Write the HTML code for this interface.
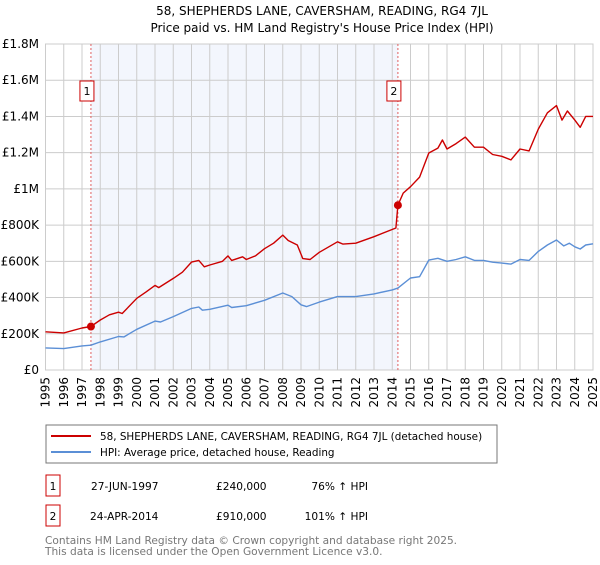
<!DOCTYPE html>
<html><head><meta charset="utf-8">
<style>
body{margin:0;background:#fff;font-family:"Liberation Sans","DejaVu Sans",sans-serif;}
svg text{font-family:"DejaVu Sans","Liberation Sans",sans-serif;}
</style></head>
<body>
<svg id="chart" width="600" height="560" viewBox="0 0 600 560">
<text x="322" y="15" text-anchor="middle" font-size="12">58, SHEPHERDS LANE, CAVERSHAM, READING, RG4 7JL</text>
<text x="322" y="32" text-anchor="middle" font-size="12">Price paid vs. HM Land Registry's House Price Index (HPI)</text>
<g id="plot"></g>
<g>
<rect x="46" y="425" width="451" height="38" fill="#fff" stroke="#777"/>
<line x1="51" y1="436" x2="91" y2="436" stroke="#cc0000" stroke-width="2"/>
<text x="100" y="440" font-size="10.4">58, SHEPHERDS LANE, CAVERSHAM, READING, RG4 7JL (detached house)</text>
<line x1="51" y1="452" x2="91" y2="452" stroke="#5b8fd6" stroke-width="2"/>
<text x="100" y="456" font-size="10.4">HPI: Average price, detached house, Reading</text>
</g>
<g font-size="10.6">
<rect x="46" y="475" width="14" height="21" fill="none" stroke="#cc0000"/>
<text x="53" y="490" text-anchor="middle">1</text>
<text x="91" y="490">27-JUN-1997</text>
<text x="216" y="490">£240,000</text>
<text x="368" y="490" text-anchor="end">76% ↑ HPI</text>
<rect x="46" y="505" width="14" height="21" fill="none" stroke="#cc0000"/>
<text x="53" y="520" text-anchor="middle">2</text>
<text x="90" y="520">24-APR-2014</text>
<text x="216" y="520">£910,000</text>
<text x="368" y="520" text-anchor="end">101% ↑ HPI</text>
</g>
<text x="45" y="544" font-size="10.6" fill="#777">Contains HM Land Registry data © Crown copyright and database right 2025.</text>
<text x="45" y="555" font-size="10.6" fill="#777">This data is licensed under the Open Government Licence v3.0.</text>
</svg>
<script>
const yTicks=[0,200000,400000,600000,800000,1000000,1200000,1400000,1600000,1800000];
const yTickLabels=["£0","£200K","£400K","£600K","£800K","£1M","£1.2M","£1.4M","£1.6M","£1.8M"];
const xYears=[1995,1996,1997,1998,1999,2000,2001,2002,2003,2004,2005,2006,2007,2008,2009,2010,2011,2012,2013,2014,2015,2016,2017,2018,2019,2020,2021,2022,2023,2024,2025];
const redT=[1995,1996,1997,1997.49,1998,1998.5,1999,1999.2,2000,2000.5,2001,2001.2,2002,2002.5,2003,2003.4,2003.7,2004,2004.7,2005,2005.2,2005.8,2006,2006.5,2007,2007.5,2008,2008.3,2008.8,2009.1,2009.5,2010,2011,2011.3,2012,2013,2014.2,2014.31,2014.6,2015,2015.5,2016,2016.5,2016.75,2017,2017.5,2018,2018.5,2019,2019.5,2020,2020.5,2021,2021.5,2022,2022.5,2023,2023.3,2023.6,2024,2024.3,2024.6,2025];
const redV=[211,205,232,240,276,305,319,312,396,430,467,455,506,540,596,605,570,580,600,630,605,625,610,630,670,700,745,715,690,615,610,650,708,695,700,736,784,910,977,1012,1065,1198,1225,1270,1220,1250,1286,1230,1230,1190,1180,1160,1220,1210,1330,1420,1460,1380,1430,1380,1340,1400,1400];
const hpiT=[1995,1996,1997,1997.49,1998,1999,1999.3,2000,2001,2001.3,2002,2003,2003.4,2003.6,2004,2005,2005.2,2006,2007,2008,2008.5,2009,2009.3,2010,2011,2012,2013,2014,2014.31,2015,2015.5,2016,2016.5,2017,2017.5,2018,2018.5,2019,2019.5,2020,2020.5,2021,2021.5,2022,2022.5,2023,2023.4,2023.7,2024,2024.3,2024.6,2025];
const hpiV=[122,118,133,137,155,185,183,225,270,265,295,340,348,330,335,358,345,355,385,425,405,360,350,375,405,405,420,442,452,508,515,607,617,600,610,625,605,605,595,590,585,610,605,655,690,718,685,700,680,668,690,697];
const saleT=[1997.49,2014.31];
const saleV=[240000,910000];
const saleLabels=["1","2"];

const X0=45.5,X1=593,Y0=370,Y1=44;
const xs=t=>X0+(t-1995)/(2025-1995)*(X1-X0);
const ys=v=>Y0-v/1800000*(Y0-Y1);
const NS="http://www.w3.org/2000/svg";
const plot=document.getElementById('plot');
function mk(tag,attrs,parent){const e=document.createElementNS(NS,tag);for(const k in attrs)e.setAttribute(k,attrs[k]);(parent||plot).appendChild(e);return e;}

let bg=mk('rect',{x:X0,y:Y1,width:X1-X0,height:Y0-Y1,fill:'#fff'});


let sh=mk('rect',{x:xs(saleT[0]),y:Y1,width:xs(saleT[1])-xs(saleT[0]),height:Y0-Y1,fill:'#f3f6fd'});



yTicks.forEach((v,i)=>{
 let l=mk('line',{x1:X0,x2:X1,y1:ys(v),y2:ys(v),stroke:'#ccc','stroke-width':1});
 
 
 let t=mk('text',{x:39,y:ys(v)+4,'text-anchor':'end','font-size':12});
 t.textContent=yTickLabels[i];
 
 
});
xYears.forEach(yr=>{
 let l=mk('line',{x1:xs(yr),x2:xs(yr),y1:Y1,y2:Y0,stroke:'#ccc','stroke-width':1});
 
 
 let t=mk('text',{x:0,y:0,'text-anchor':'end','font-size':12,transform:`translate(${xs(yr)+4},${Y0+7}) rotate(-90)`});
 t.textContent=yr;
 
 
});
let fr=mk('rect',{x:X0,y:Y1,width:X1-X0,height:Y0-Y1,fill:'none',stroke:'#ccc'});



saleT.forEach((t,i)=>{
 let l=mk('line',{x1:xs(t),x2:xs(t),y1:Y1,y2:Y0,stroke:'#e06060','stroke-width':1,'stroke-dasharray':'2,2'});
 
 
});

function path(T,V,color,name){
 let d=T.map((t,i)=>(i?'L':'M')+xs(t).toFixed(1)+','+ys(V[i]*1000).toFixed(1)).join(' ');
 let p=mk('path',{d:d,fill:'none',stroke:color,'stroke-width':1.4,'stroke-linejoin':'round'});
 
 
}
path(hpiT,hpiV,'#5b8fd6','hpi-line');
path(redT,redV,'#cc0000','property-line');

saleT.forEach((t,i)=>{
 let c=mk('circle',{cx:xs(t),cy:ys(saleV[i]),r:4,fill:'#cc0000'});
 
 
 let b=mk('rect',{x:xs(t)-11,y:81,width:14,height:20,fill:'#fff',stroke:'#cc0000'});
 
 
 let tx=mk('text',{x:xs(t)-4,y:95,'text-anchor':'middle','font-size':11});
 tx.textContent=saleLabels[i];
 
 
});
</script>
</body></html>
